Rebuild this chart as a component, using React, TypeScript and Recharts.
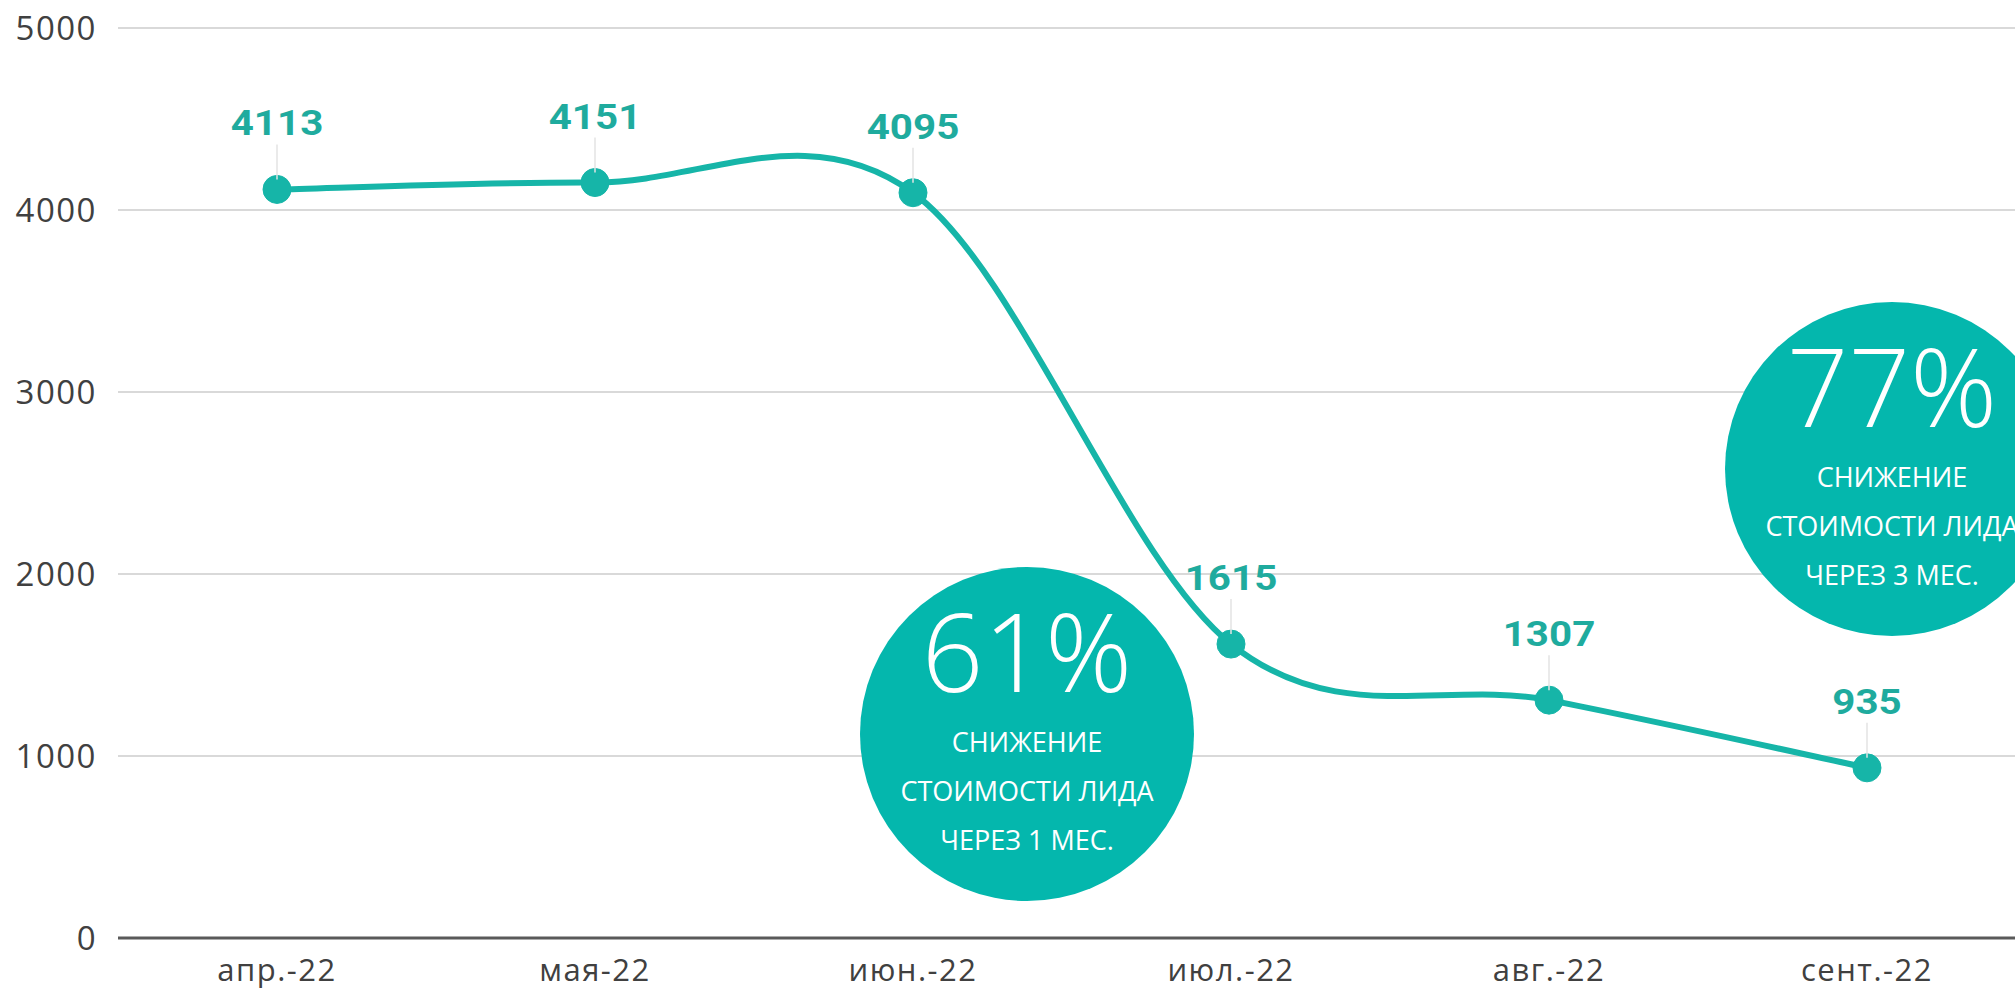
import React from 'react';
import { LineChart, Line, XAxis, YAxis, CartesianGrid, LabelList } from 'recharts';

const months = ['апр.-22', 'мая-22', 'июн.-22', 'июл.-22', 'авг.-22', 'сент.-22'];
const leadCost = [4113, 4151, 4095, 1615, 1307, 935];
const yTicks = [0, 1000, 2000, 3000, 4000, 5000];

const badgePercents = ['61%', '77%'];
const badgeLines = [
  ['СНИЖЕНИЕ', 'СТОИМОСТИ ЛИДА', 'ЧЕРЕЗ 1 МЕС.'],
  ['СНИЖЕНИЕ', 'СТОИМОСТИ ЛИДА', 'ЧЕРЕЗ 3 МЕС.'],
];

const data = months.map((m, i) => ({ month: m, value: leadCost[i] }));

const TEAL = '#16b5a8';
const BADGE = '#04b7ad';

// smoothing like Excel's "smoothed line" (catmull-rom through the points)
const excelCurve = (context: any) => {
  let pts: number[][] = [];
  return {
    areaStart() {},
    areaEnd() {},
    lineStart() {
      pts = [];
    },
    point(x: number, y: number) {
      pts.push([+x, +y]);
    },
    lineEnd() {
      if (!pts.length) return;
      context.moveTo(pts[0][0], pts[0][1]);
      for (let i = 0; i < pts.length - 1; i++) {
        const p0 = pts[i - 1] || pts[i];
        const p1 = pts[i];
        const p2 = pts[i + 1];
        const p3 = pts[i + 2] || p2;
        context.bezierCurveTo(
          p1[0] + (p2[0] - p0[0]) / 6,
          p1[1] + (p2[1] - p0[1]) / 6,
          p2[0] - (p3[0] - p1[0]) / 6,
          p2[1] - (p3[1] - p1[1]) / 6,
          p2[0],
          p2[1]
        );
      }
    },
  };
};

const renderValueLabel = (props: any) => {
  const x = props.x ?? props.viewBox?.x;
  const y = props.y ?? props.viewBox?.y;
  if (x == null || y == null) return null;
  return (
    <g>
      <line x1={x} x2={x} y1={y - 45} y2={y - 10} stroke="#e3e3e3" strokeWidth={1.5} />
      <text
        transform={`translate(${x} ${y - 54}) scale(1.12 1)`}
        textAnchor="middle"
        fill="#1fab9e"
        fontFamily="Roboto, sans-serif"
        fontWeight={700}
        fontSize={36}
      >
        {props.value}
      </text>
    </g>
  );
};

const Badge = ({ cx, cy, pct, lines }: { cx: number; cy: number; pct: string; lines: string[] }) => (
  <g fontFamily="'Open Sans', sans-serif" fill="#ffffff" textAnchor="middle">
    <circle cx={cx} cy={cy} r={167} fill={BADGE} />
    <text x={cx} y={cy - 42} fontSize={108} fontWeight={300}>
      {pct}
    </text>
    {lines.map((t, i) => (
      <text key={t + i} x={cx} y={cy + 9 + i * 49} dy="0.35em" fontSize={27}>
        {t}
      </text>
    ))}
  </g>
);

export default function App() {
  return (
    <div style={{ position: 'absolute', left: 0, top: 0, width: 2015, height: 992, background: '#fff', overflow: 'hidden' }}>
      <LineChart width={2015} height={992} data={data} margin={{ top: 28, right: 0, bottom: 0, left: 0 }}>
        <CartesianGrid vertical={false} stroke="#d9d9d9" strokeWidth={2} />
        <XAxis
          dataKey="month"
          height={54}
          padding={{ left: 159, right: 148 }}
          tickLine={false}
          axisLine={{ stroke: '#5a5a5a', strokeWidth: 3 }}
          tickMargin={15}
          tick={{ fill: '#404040', fontSize: 31, letterSpacing: 1.5, fontFamily: "'Open Sans', sans-serif" }}
        />
        <YAxis
          width={118}
          domain={[0, 5000]}
          ticks={yTicks}
          tickLine={false}
          axisLine={false}
          tickMargin={15}
          tick={{ fill: '#404040', fontSize: 33, letterSpacing: 1.5, fontFamily: "'Open Sans', sans-serif" }}
        />
        <Line
          dataKey="value"
          type={excelCurve as any}
          stroke={TEAL}
          strokeWidth={6}
          dot={{ r: 14, fill: TEAL, stroke: TEAL, strokeWidth: 1 }}
          activeDot={false}
          isAnimationActive={false}
        >
          <LabelList dataKey="value" content={renderValueLabel} />
        </Line>
      </LineChart>
      <svg width={2015} height={992} style={{ position: 'absolute', left: 0, top: 0, pointerEvents: 'none' }}>
        <Badge cx={1027} cy={734} pct={badgePercents[0]} lines={badgeLines[0]} />
        <Badge cx={1892} cy={469} pct={badgePercents[1]} lines={badgeLines[1]} />
      </svg>
    </div>
  );
}
